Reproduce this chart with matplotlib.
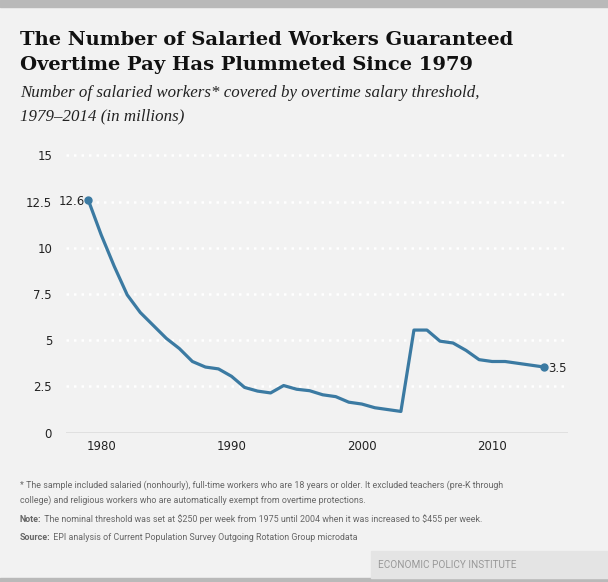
import matplotlib.pyplot as plt
from matplotlib.patches import Rectangle

years = list(range(1979, 2015))
workers = [12.6, 10.7, 9.0, 7.45, 6.5, 5.8, 5.1, 4.55, 3.85, 3.55, 3.45, 3.05,
           2.45, 2.25, 2.15, 2.55, 2.35, 2.27, 2.05, 1.95, 1.65, 1.55, 1.35, 1.25,
           1.15, 5.55, 5.55, 4.95, 4.85, 4.45, 3.95, 3.85, 3.85, 3.75, 3.65, 3.55]
yticks = [0, 2.5, 5, 7.5, 10, 12.5, 15]
ytick_labels = ['0', '2.5', '5', '7.5', '10', '12.5', '15']
xticks = [1980, 1990, 2000, 2010]

bg = '#f2f2f2'
line_color = '#3b7aa2'

fig = plt.figure(figsize=(6.08, 5.82), dpi=100, facecolor=bg)

# top and bottom bands, logo box
fig.patches.append(Rectangle((0, 1 - 7 / 582), 1, 7 / 582, transform=fig.transFigure,
                             color='#b9b9b9', zorder=0))
fig.patches.append(Rectangle((0, 0), 1, 4 / 582, transform=fig.transFigure,
                             color='#b9b9b9', zorder=0))
fig.patches.append(Rectangle((371 / 608, 4 / 582), 1 - 371 / 608, 27 / 582,
                             transform=fig.transFigure, color='#e4e4e4', zorder=0))

ax = fig.add_axes([66 / 608, 149.3 / 582, (567.7 - 66) / 608, 277.4 / 582])
ax.set_facecolor(bg)
ax.plot(years, workers, color=line_color, lw=2.3, solid_joinstyle='round', zorder=3,
        clip_on=False)
ax.plot([years[0], years[-1]], [workers[0], workers[-1]], 'o', color=line_color,
        ms=5, zorder=4, clip_on=False)
ax.text(years[0] - 0.25, workers[0] - 0.1, '12.6', ha='right', va='center', fontsize=8.5,
        color='#222222')
ax.text(years[-1] + 0.3, workers[-1] - 0.1, '3.5', ha='left', va='center', fontsize=8.5,
        color='#222222')

ax.set_xlim(1977.3, 2015.8)
ax.set_ylim(0, 15)
for t in yticks[1:]:
    ax.axhline(t, color='white', lw=1.8, ls=(0, (1, 2)), zorder=1, clip_on=False)
ax.axhline(0, color='#999999', lw=1, zorder=2)
for s in ax.spines.values():
    s.set_visible(False)
ax.set_yticks(yticks)
ax.set_yticklabels(ytick_labels)
ax.set_xticks(xticks)
ax.tick_params(length=0, labelsize=8.5, labelcolor='#222222')
ax.tick_params(axis='y', pad=10)
ax.tick_params(axis='x', pad=5)

# titles
title_kw = dict(fontsize=14, fontweight='bold', family='DejaVu Serif', va='center',
                color='#111111')
fig.text(20 / 608, 1 - 40 / 582, 'The Number of Salaried Workers Guaranteed', **title_kw)
fig.text(20 / 608, 1 - 65 / 582, 'Overtime Pay Has Plummeted Since 1979', **title_kw)
sub_kw = dict(fontsize=12.15, style='italic', family='Liberation Serif', va='center',
              color='#222222')
fig.text(20 / 608, 1 - 93 / 582,
         'Number of salaried workers* covered by overtime salary threshold,', **sub_kw)
fig.text(20 / 608, 1 - 116 / 582, '1979\u20132014 (in millions)', **sub_kw)

# footnotes
note_kw = dict(fontsize=6.4, family='Roboto', color='#666666')
fig.text(20 / 608, 1 - 485 / 582,
         '* The sample included salaried (nonhourly), full-time workers who are 18 years or older. '
         'It excluded teachers (pre-K through', va='center', **note_kw)
fig.text(20 / 608, 1 - 500 / 582,
         'college) and religious workers who are automatically exempt from overtime protections.',
         va='center', **note_kw)
note = fig.text(20 / 608, 1 - 519 / 582, 'Note:', fontweight='bold', va='center', **note_kw)
src = fig.text(20 / 608, 1 - 538 / 582, 'Source:', fontweight='bold', va='center', **note_kw)
ax.annotate(' The nominal threshold was set at \\$250 per week from 1975 until 2004 '
            'when it was increased to \\$455 per week.',
            xy=(1, 0), xycoords=note, va='bottom', annotation_clip=False, **note_kw)
ax.annotate(' EPI analysis of Current Population Survey Outgoing Rotation Group microdata',
            xy=(1, 0), xycoords=src, va='bottom', annotation_clip=False, **note_kw)

fig.text(517 / 608, 1 - 565.5 / 582, 'ECONOMIC POLICY INSTITUTE', fontsize=7.2,
         family='Roboto', ha='right', va='center', color='#999999')

fig.savefig('out.png', dpi=100, facecolor=bg)
